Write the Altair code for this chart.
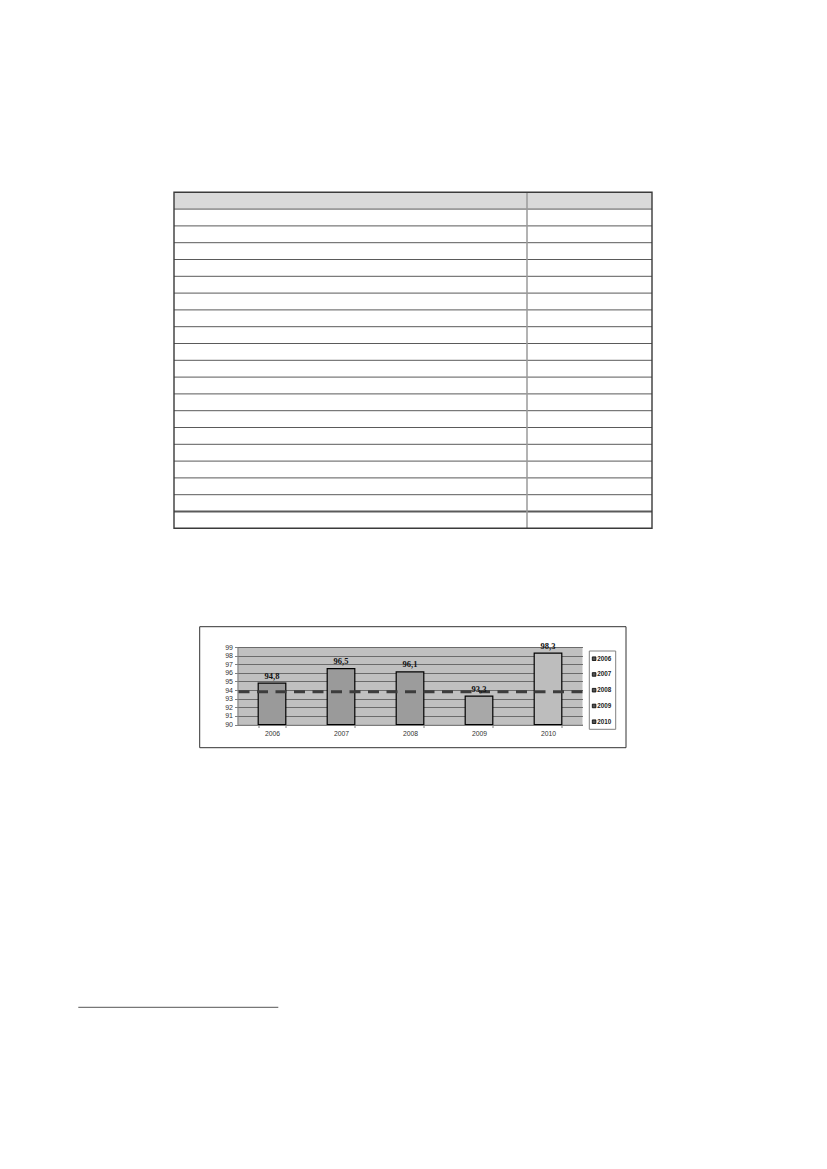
import altair as alt
import pandas as pd

# ---------------- data ----------------
years = ["2006", "2007", "2008", "2009", "2010"]
values = [94.8, 96.5, 96.1, 93.3, 98.3]
value_labels = ["94,8", "96,5", "96,1", "93,3", "98,3"]
reference_level = 93.8
y_ticks = [90, 91, 92, 93, 94, 95, 96, 97, 98, 99]
bar_colors = ["#9a9a9a", "#9a9a9a", "#9c9c9c", "#a8a8a8", "#bdbdbd"]

# empty table on the page: header, 18 rows, total row; two columns (share of width in %)
table_rows = ["header"] + [f"row {i}" for i in range(1, 19)] + ["total"]
table_col_share = [73.85, 26.15]

# ---------------- bar chart (plot area is the view) ----------------
W, H = 345, 77.5
bars_df = pd.DataFrame({"year": years, "value": values, "label": value_labels})

x_axis = alt.Axis(title=None, labelAngle=0, tickBand="extent", grid=False,
                  domainColor="#808080", tickColor="#808080", tickSize=3,
                  labelFont="Liberation Sans", labelFontSize=6.8, labelColor="#333333",
                  labelPadding=3)
y_axis = alt.Axis(title=None, values=y_ticks, grid=True, gridColor="#555555", gridWidth=0.8,
                  domainColor="#808080", tickColor="#808080", tickSize=3,
                  labelFont="Liberation Sans", labelFontSize=7, labelColor="#333333",
                  labelPadding=2, labelOverlap=False)
x_scale = alt.Scale(paddingInner=0.6, paddingOuter=0.3)
y_scale = alt.Scale(domain=[90, 99], zero=False, nice=False)

X = alt.X("year:N", sort=years, scale=x_scale, axis=x_axis)
Y = alt.Y("value:Q", scale=y_scale, axis=y_axis)

bars = alt.Chart(bars_df).mark_bar(stroke="black", strokeWidth=1.2).encode(
    x=X,
    y=Y,
    y2=alt.datum(90),
    fill=alt.Fill("year:N", sort=years,
                  scale=alt.Scale(domain=years, range=bar_colors), legend=None),
)

bar_text = alt.Chart(bars_df).mark_text(font="Liberation Serif", fontWeight="bold",
                                        fontSize=8.5, baseline="bottom", dy=-2.5,
                                        color="#111111").encode(
    x=X, y=Y, text="label:N")

ref_rule = alt.Chart(pd.DataFrame({"ref": [reference_level]})).mark_rule(
    color="#3c3c3c", strokeWidth=3, strokeDash=[11, 7.5]).encode(
    y=alt.Y("ref:Q", scale=y_scale, axis=y_axis))

chart_layer = alt.layer(bars, ref_rule, bar_text)

# ---------------- legend (drawn as marks on its own point scale) ----------------
leg_df = pd.DataFrame({"year": years})
leg_y = alt.Y("year:N", sort=years,
              scale=alt.Scale(type="point", domain=years, range=[11.7, 74.7], padding=0),
              axis=None)
one = pd.DataFrame({"k": [0]})
leg_box = alt.Chart(one).mark_rect(fill="white", stroke="#808080", strokeWidth=1).encode(
    x=alt.value(351.8), x2=alt.value(378.2), y=alt.value(4), y2=alt.value(82.3))
leg_sym = alt.Chart(leg_df).mark_square(size=13, fill="#555555", stroke="black",
                                        strokeWidth=0.8, opacity=1).encode(
    x=alt.value(356.6), y=leg_y)
leg_txt = alt.Chart(leg_df).mark_text(align="left", baseline="middle", font="Liberation Sans",
                                      fontWeight="bold", fontSize=6.3, color="#222222").encode(
    x=alt.value(359.8), y=leg_y, text="year:N")
legend_layer = alt.layer(leg_box, leg_sym, leg_txt)

# ---------------- table (own scales, above the chart) ----------------
n_rows = len(table_rows)
tx = alt.Scale(domain=[0, 100], range=[-63.5, 414.5])
ty = alt.Scale(domain=[0, n_rows], range=[-454.7, -118.7])

header_df = pd.DataFrame({"x0": [0], "x1": [100], "y0": [0], "y1": [1]})
hline_df = pd.DataFrame({"y": list(range(1, n_rows)), "x0": 0, "x1": 100,
                         "w": [2.2 if i == n_rows - 1 else 1.0 for i in range(1, n_rows)]})
vline_df = pd.DataFrame({"x": [table_col_share[0]], "y0": [0], "y1": [n_rows]})
border_df = pd.DataFrame({"x0": [0], "x1": [100], "y0": [0], "y1": [n_rows]})

t_header = alt.Chart(header_df).mark_rect(fill="#d9d9d9").encode(
    x=alt.X("x0:Q", scale=tx, axis=None), x2="x1:Q",
    y=alt.Y("y0:Q", scale=ty, axis=None), y2="y1:Q")
t_hlines = alt.Chart(hline_df).mark_rule(color="#5a5a5a").encode(
    x=alt.X("x0:Q", scale=tx, axis=None), x2="x1:Q",
    y=alt.Y("y:Q", scale=ty, axis=None),
    strokeWidth=alt.StrokeWidth("w:Q", scale=None, legend=None))
t_vline = alt.Chart(vline_df).mark_rule(color="#9a9a9a", strokeWidth=1.5).encode(
    x=alt.X("x:Q", scale=tx, axis=None),
    y=alt.Y("y0:Q", scale=ty, axis=None), y2="y1:Q")
t_border = alt.Chart(border_df).mark_rect(fillOpacity=0, stroke="#3a3a3a", strokeWidth=1.4).encode(
    x=alt.X("x0:Q", scale=tx, axis=None), x2="x1:Q",
    y=alt.Y("y0:Q", scale=ty, axis=None), y2="y1:Q")

table_layer = alt.layer(t_header, t_hlines, t_vline, t_border)

# ---------------- page decorations ----------------
chart_box = alt.Chart(one).mark_rect(fillOpacity=0, stroke="#333333", strokeWidth=1).encode(
    x=alt.value(-37.8), x2=alt.value(388.5), y=alt.value(-20.3), y2=alt.value(100.7))
footnote_rule = alt.Chart(one).mark_rule(color="#555555", strokeWidth=1).encode(
    x=alt.value(-159.2), x2=alt.value(40.8), y=alt.value(360.3))

chart = alt.layer(table_layer, chart_box, chart_layer, legend_layer, footnote_rule).resolve_scale(
    x="independent", y="independent"
).properties(
    width=W, height=H,
    padding={"left": 229.5, "top": 639, "right": 236.5, "bottom": 433.5},
    autosize=alt.AutoSizeParams(type="none"),
    background="white",
).configure_view(fill="#c0c0c0", strokeWidth=0)

chart.save("out.html", embed_options={"renderer": "svg", "actions": False})
